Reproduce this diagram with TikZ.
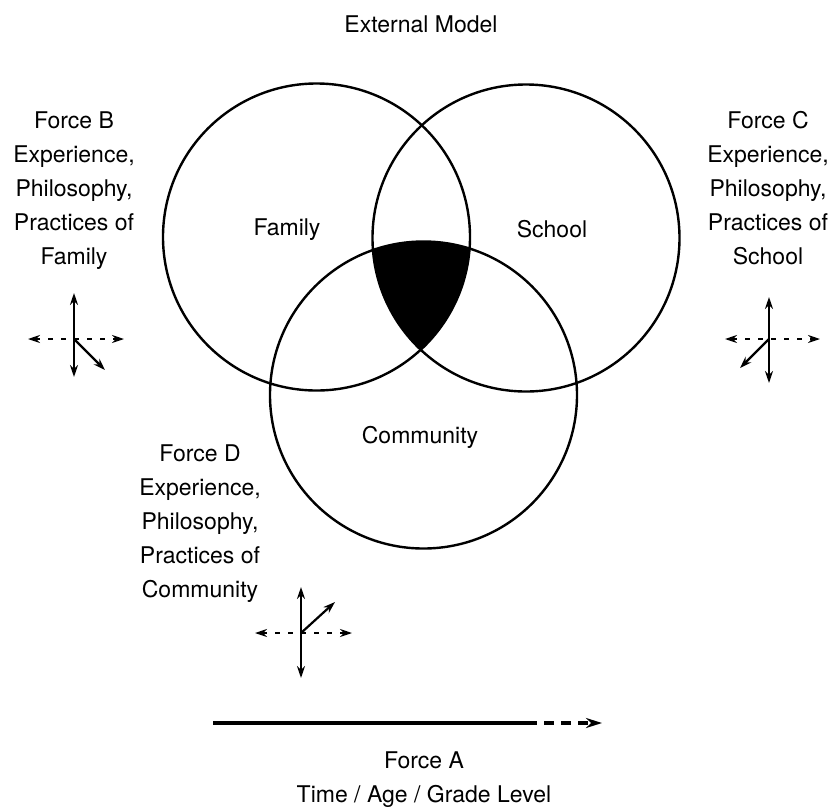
\documentclass[tikz,border=0pt]{standalone}
\usepackage{fontspec}
\setmainfont{TeX Gyre Heros}
\usetikzlibrary{arrows.meta}
\tikzset{ring/.style={draw=black,line width=1.2pt},
  lbl/.style={font=\fontsize{11.5}{17}\selectfont,anchor=base,inner sep=0pt},
  block/.style={font=\fontsize{11.5}{17}\selectfont,align=center,anchor=north,inner sep=0pt},
  twoway/.style={{Stealth[length=6pt,width=4pt]}-{Stealth[length=6pt,width=4pt]},line width=1.1pt},
  dashway/.style={twoway,dash pattern=on 2.5pt off 4pt},
  oneway/.style={-{Stealth[length=6pt,width=4pt]},line width=1.1pt}}

\begin{document}
\begin{tikzpicture}[x=0.5pt,y=-0.5pt]
  \useasboundingbox (0,0) rectangle (831,810);
  % circle centres
  \coordinate (famC) at (316.5,237);
  \coordinate (schC) at (526,238);
  \coordinate (comC) at (423.5,395);
  % shared core
  \begin{scope}
    \clip (famC) circle (153.5);
    \clip (schC) circle (153.5);
    \fill[black] (comC) circle (153.5);
  \end{scope}
  \draw[ring] (famC) circle (153.5);
  \draw[ring] (schC) circle (153.5);
  \draw[ring] (comC) circle (153.5);
  \node[lbl] (family) at (287,235) {Family};
  \node[lbl] (school) at (552,237) {School};
  \node[lbl] (community) at (420,443) {Community};
  \node[block] (model) at (421,15) {External Model};

  % force B
  \node[block] (forceB) at (74,111) {Force B\\Experience,\\Philosophy,\\Practices of\\Family};
  \coordinate (bC) at (74,339);
  \coordinate (bN) at (74,293);
  \coordinate (bS) at (74,377);
  \coordinate (bW) at (28,339);
  \coordinate (bE) at (124,339);
  \coordinate (bD) at (105,370);
  \draw[twoway] (bN) -- (bS);
  \draw[dashway] (bW) -- (bE);
  \draw[oneway] (bC) -- (bD);

  % force C
  \node[block] (forceC) at (768,111) {Force C\\Experience,\\Philosophy,\\Practices of\\School};
  \coordinate (cC) at (769,339);
  \coordinate (cN) at (769,297);
  \coordinate (cS) at (769,383);
  \coordinate (cW) at (725,339);
  \coordinate (cE) at (820,339);
  \coordinate (cD) at (740,368);
  \draw[twoway] (cN) -- (cS);
  \draw[dashway] (cW) -- (cE);
  \draw[oneway] (cC) -- (cD);

  % force D
  \node[block] (forceD) at (200,444) {Force D\\Experience,\\Philosophy,\\Practices of\\Community};
  \coordinate (dC) at (301,633);
  \coordinate (dN) at (301,587);
  \coordinate (dS) at (301,678);
  \coordinate (dW) at (255,633);
  \coordinate (dE) at (352,633);
  \coordinate (dD) at (335,602);
  \draw[twoway] (dN) -- (dS);
  \draw[dashway] (dW) -- (dE);
  \draw[oneway] (dC) -- (dD);

  % force A
  \coordinate (a0) at (213,723);
  \coordinate (a1) at (527,723);
  \coordinate (a2) at (602,723);
  \draw[line width=1.6pt] (a0) -- (a1);
  \draw[line width=1.6pt,dash pattern=on 5pt off 3.5pt,-{Stealth[length=8pt,width=5pt]}] (a1) -- (a2);
  \node[block] (forceA) at (424,751) {Force A\\Time / Age / Grade Level};
\end{tikzpicture}
\end{document}
